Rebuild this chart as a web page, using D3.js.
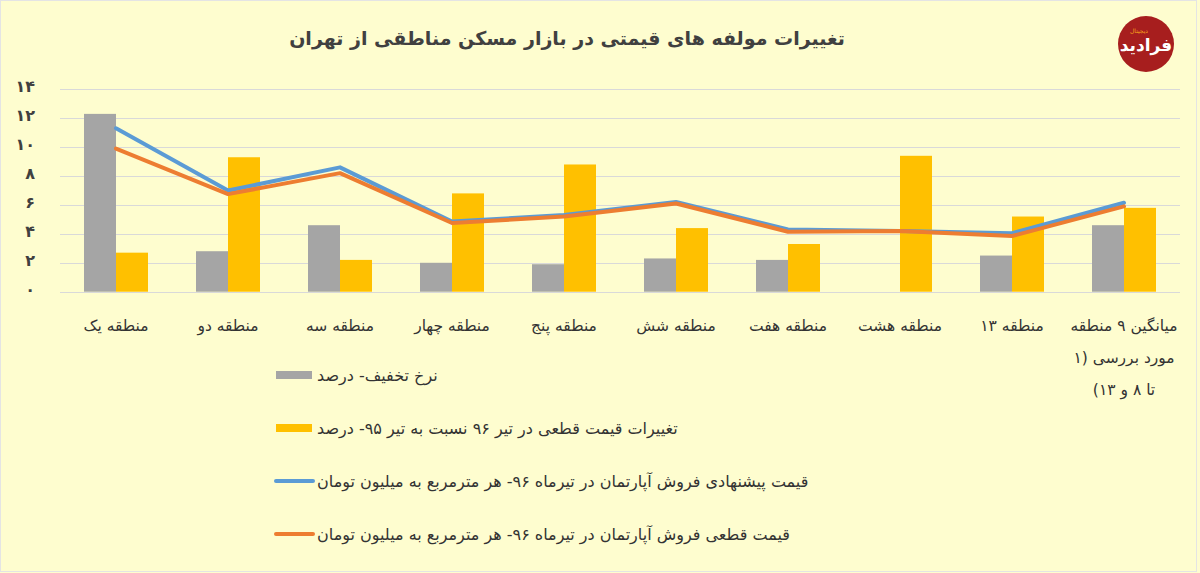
<!DOCTYPE html>
<html>
<head>
<meta charset="utf-8">
<script src="https://cdn.jsdelivr.net/npm/d3@7/dist/d3.min.js"></script>
<style>
  html, body { margin: 0; padding: 0; background: #FEFDCF; }
  svg { display: block; }
  text { font-family: "DejaVu Sans", sans-serif; }
</style>
</head>
<body>
<svg id="chart" width="1200" height="573"></svg>
<script>
// ---- data ----
const categories = [
  "منطقه یک", "منطقه دو", "منطقه سه", "منطقه چهار", "منطقه پنج",
  "منطقه شش", "منطقه هفت", "منطقه هشت", "منطقه ۱۳", "میانگین ۹ منطقه مورد بررسی (۱ تا ۸ و ۱۳)"
];
const categoryLines = [
  ["منطقه یک"], ["منطقه دو"], ["منطقه سه"], ["منطقه چهار"], ["منطقه پنج"],
  ["منطقه شش"], ["منطقه هفت"], ["منطقه هشت"], ["منطقه ۱۳"],
  ["میانگین ۹ منطقه", "مورد بررسی (۱", "تا ۸ و ۱۳)"]
];
const discountRate   = [12.3, 2.8, 4.6, 2.0, 1.9, 2.3, 2.2, 0, 2.5, 4.6];
const finalPriceChange = [2.7, 9.3, 2.2, 6.8, 8.8, 4.4, 3.3, 9.4, 5.2, 5.8];
const offeredPrice   = [11.3, 7.0, 8.6, 4.85, 5.3, 6.2, 4.3, 4.2, 4.05, 6.15];
const finalPrice     = [9.9, 6.75, 8.2, 4.75, 5.2, 6.1, 4.15, 4.2, 3.85, 5.9];
const yTicks = [0, 2, 4, 6, 8, 10, 12, 14];
const yTickLabels = ["۰", "۲", "۴", "۶", "۸", "۱۰", "۱۲", "۱۴"];
const titleText = "تغییرات مولفه های قیمتی در بازار مسکن مناطقی از تهران";
const seriesNames = [
  "نرخ تخفیف- درصد",
  "تغییرات قیمت قطعی در تیر ۹۶ نسبت به تیر ۹۵- درصد",
  "قیمت پیشنهادی فروش آپارتمان در تیرماه ۹۶- هر مترمربع به میلیون تومان",
  "قیمت قطعی فروش آپارتمان در تیرماه ۹۶- هر مترمربع به میلیون تومان"
];

// ---- styles ----
const colors = { gray: "#A5A5A5", yellow: "#FFC000", blue: "#5B9BD5", orange: "#ED7D31" };

const svg = d3.select("#chart");
svg.append("rect").attr("x", 0).attr("y", 0).attr("width", 1200).attr("height", 573)
  .attr("fill", "#FEFDCF");
svg.append("rect").attr("x", 0.5).attr("y", 0.5).attr("width", 1196).attr("height", 571)
  .attr("fill", "none").attr("stroke", "#E4E4E4");

const x = d3.scaleBand().domain(categories).range([60, 1180]).padding(0);
const inner = d3.scaleBand().domain(["a", "b"]).range([0, x.bandwidth()]).paddingInner(0).paddingOuter(0.75);
const y = d3.scaleLinear().domain([0, 14]).range([291.7, 89.3]);

// gridlines
svg.append("g").selectAll("line").data(yTicks).join("line")
  .attr("x1", 60).attr("x2", 1180)
  .attr("y1", d => Math.round(y(d)) + 0.5).attr("y2", d => Math.round(y(d)) + 0.5)
  .attr("stroke", "#D9D9D9").attr("stroke-width", 1.2);

// y axis labels
const yAxis = d3.axisLeft(y).tickValues(yTicks).tickFormat((d, i) => yTickLabels[i]).tickSize(0).tickPadding(0);
const yg = svg.append("g").attr("transform", "translate(35,0)").call(yAxis);
yg.select(".domain").remove();
yg.selectAll("text").attr("font-family", "DejaVu Sans").attr("font-size", 16)
  .attr("font-weight", "bold").attr("fill", "#404040").attr("dy", "0.15em");

// bars
const groups = svg.append("g").selectAll("g").data(categories).join("g")
  .attr("transform", d => `translate(${x(d)},0)`);
groups.append("rect")
  .attr("x", inner("a")).attr("width", inner.bandwidth())
  .attr("y", (d, i) => y(discountRate[i])).attr("height", (d, i) => y(0) - y(discountRate[i]))
  .attr("fill", colors.gray);
groups.append("rect")
  .attr("x", inner("b")).attr("width", inner.bandwidth())
  .attr("y", (d, i) => y(finalPriceChange[i])).attr("height", (d, i) => y(0) - y(finalPriceChange[i]))
  .attr("fill", colors.yellow);

// lines
const line = d3.line().x((d, i) => x(categories[i]) + x.bandwidth() / 2).y(d => y(d));
svg.append("path").datum(offeredPrice).attr("d", line).attr("fill", "none")
  .attr("stroke", colors.blue).attr("stroke-width", 4).attr("stroke-linejoin", "round").attr("stroke-linecap", "round");
svg.append("path").datum(finalPrice).attr("d", line).attr("fill", "none")
  .attr("stroke", colors.orange).attr("stroke-width", 4).attr("stroke-linejoin", "round").attr("stroke-linecap", "round");

// x labels
const xl = svg.append("g").selectAll("text").data(categories).join("text")
  .attr("x", d => x(d) + x.bandwidth() / 2)
  .attr("y", 331)
  .attr("text-anchor", "middle").attr("direction", "rtl")
  .attr("font-size", 15.5).attr("fill", "#333333");
xl.each(function(d, i) {
  const t = d3.select(this);
  categoryLines[i].forEach((ln, j) => {
    t.append("tspan").attr("x", x(d) + x.bandwidth() / 2).attr("y", 331 + j * 32).text(ln);
  });
});

// title
svg.append("text").attr("x", 567).attr("y", 45).attr("text-anchor", "middle")
  .attr("direction", "rtl").attr("font-size", 19).attr("font-weight", "bold")
  .attr("fill", "#404040").text(titleText);

// legend
const legendY = [375, 428, 481, 534];
const lg = svg.append("g").selectAll("g").data(seriesNames).join("g")
  .attr("transform", (d, i) => `translate(0,${legendY[i]})`);
lg.each(function(d, i) {
  const g = d3.select(this);
  if (i < 2) {
    g.append("rect").attr("x", 276).attr("y", -4).attr("width", 36).attr("height", 8)
      .attr("fill", i === 0 ? colors.gray : colors.yellow);
  } else {
    g.append("line").attr("x1", 276).attr("x2", 313).attr("y1", 0).attr("y2", 0)
      .attr("stroke", i === 2 ? colors.blue : colors.orange).attr("stroke-width", 4)
      .attr("stroke-linecap", "round");
  }
  g.append("text").attr("x", 317).attr("y", 6).attr("direction", "rtl").attr("text-anchor", "end")
    .attr("font-size", 16).attr("fill", "#333333").text(d);
});

// logo
const logo = svg.append("g").attr("transform", "translate(1146,44)");
logo.append("circle").attr("r", 28).attr("fill", "#A71E1E");
logo.append("text").attr("y", 7).attr("text-anchor", "middle").attr("direction", "rtl")
  .attr("font-size", 17).attr("font-weight", "bold").attr("fill", "#ffffff").text("فرادید");
logo.append("text").attr("x", -7).attr("y", -11).attr("text-anchor", "middle").attr("direction", "rtl")
  .attr("font-size", 6).attr("fill", "#F6A21C").text("دیجیتال");
</script>
</body>
</html>
